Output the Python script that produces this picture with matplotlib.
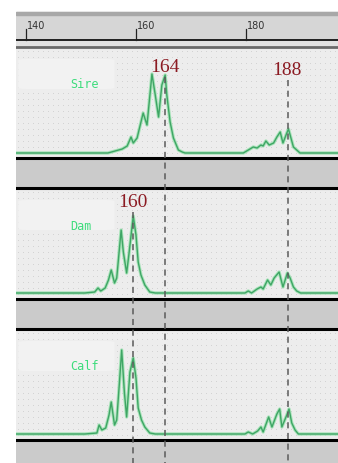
import numpy as np
import matplotlib.pyplot as plt
from matplotlib.patches import FancyBboxPatch

# electropherogram traces: fragment size (bp) and peak height for each sample
sire_bp = [138.2, 154.9, 156.2, 157.5, 158.4, 159.1, 159.5, 160.2, 161.3, 162.0, 162.9,
           163.5, 164.1, 164.7, 165.3, 165.6, 166.2, 166.8, 167.7, 168.4, 168.9,
           179.5, 180.4, 181.3, 182.0, 182.7, 183.1, 183.6, 184.2, 185.0, 185.6, 186.2,
           186.7, 187.4, 187.7, 188.1, 188.6, 189.2, 189.8, 196.7]
sire_h = [0, 0, 2, 4, 7, 16, 10, 15, 40, 28, 79,
          58, 36, 68, 78, 58, 31, 15, 3, 1, 0,
          0, 3, 6, 5, 8, 7, 12, 8, 10, 16, 21,
          10, 20, 24, 16, 6, 3, 0, 0]

dam_bp = [138.2, 150.7, 152.5, 153.1, 153.6, 154.4, 155.0, 155.5, 156.1, 156.5, 157.3,
          157.7, 158.3, 158.7, 159.5, 160.0, 160.4, 160.9, 161.6, 162.5, 163.5,
          179.8, 180.4, 181.0, 182.0, 182.7, 183.1, 183.9, 184.5, 185.1, 186.0,
          186.7, 187.5, 188.0, 188.6, 189.2, 189.9, 196.7]
dam_h = [0, 0, 1, 5, 2, 5, 13, 23, 10, 15, 63,
         41, 20, 38, 77, 58, 31, 18, 8, 1, 0,
         0, 2, 0, 4, 6, 4, 13, 8, 15, 21,
         6, 20, 15, 6, 2, 0, 0]

calf_bp = [138.2, 150.7, 152.9, 153.3, 153.8, 154.5, 155.1, 155.5, 156.1, 156.5, 157.0,
           157.4, 157.9, 158.3, 158.9, 159.2, 159.5, 160.0, 160.4, 161.0, 161.6, 162.5,
           163.5, 179.8, 180.4, 181.2, 182.1, 182.7, 183.1, 184.1, 184.7, 185.6, 186.1,
           186.5, 187.4, 187.8, 188.3, 188.9, 189.5, 196.7]
calf_h = [0, 0, 1, 9, 4, 6, 19, 32, 9, 14, 52,
          84, 41, 17, 62, 69, 76, 56, 26, 14, 7, 1,
          0, 0, 2, 0, 3, 7, 2, 17, 7, 20, 25,
          7, 19, 25, 11, 4, 0, 0]

# allele calls: label and peak position
call_labels = ["164", "188", "160"]
call_bp = [165.3, 187.6, 159.5]

ruler_ticks = [140, 160, 180]

# panel layout in pixel rows (top, bottom, baseline)
panels = [("Sire", 47, 158, 153, sire_bp, sire_h),
          ("Dam", 188, 299, 293, dam_bp, dam_h),
          ("Calf", 329, 440, 434, calf_bp, calf_h)]

fig = plt.figure(figsize=(3.38, 4.63), dpi=100)
ax = fig.add_axes([16 / 338, 0, 322 / 338, 1])
ax.set_xlim(138.2, 196.7)
ax.set_ylim(463, 0)
ax.axis("off")

# ruler strip and grey separators
ax.axhspan(12, 40, color="#d6d6d6", zorder=0)
ax.axhspan(12, 15, color="#a8a8a8", zorder=1)
ax.axhspan(40, 47, color="#e2e2e2", zorder=0)
ax.axhspan(158, 188, color="#cbcbcb", zorder=0)
ax.axhspan(299, 329, color="#cbcbcb", zorder=0)
ax.axhspan(440, 463, color="#cbcbcb", zorder=0)
ax.axhline(40, color="black", lw=1.2, zorder=3)
ax.axhline(47, color="#6a6a6a", lw=2.0, zorder=3)

for t in ruler_ticks:
    ax.plot([t, t], [29, 40], color="#222222", lw=0.9, zorder=3)
    ax.text(t + 0.15, 26, str(t), fontsize=7, color="#333333", ha="left", va="center",
            family="DejaVu Sans Condensed", zorder=3)

xs_dot = np.arange(138.6, 196.7, 0.9)
for name, top, bottom, base, bp, h in panels:
    ax.axhspan(top, bottom, color="#ededed", zorder=0)
    # faint dotted background grid
    ys_dot = np.arange(top + 4, bottom - 2, 6)
    gx, gy = np.meshgrid(xs_dot, ys_dot)
    ax.scatter(gx.ravel(), gy.ravel(), s=0.3, color="#c9c9c9", lw=0, zorder=1)
    # lighter box behind the sample name
    ax.add_patch(FancyBboxPatch((138.6, top + 12), 17.5, 30, boxstyle="round,pad=0,rounding_size=1.5",
                                fc="#f2f2f2", ec="none", zorder=1))
    ax.axhline(bottom, color="black", lw=2.2, zorder=4)
    if top != 47:
        ax.axhline(top, color="black", lw=2.2, zorder=4)
    y = base - np.array(h, dtype=float)
    ax.plot(bp, y, color="#a6e3b8", lw=2.4, zorder=5, solid_joinstyle="round")
    ax.plot(bp, y, color="#3fa565", lw=1.0, zorder=6, solid_joinstyle="round")
    ax.text(148.1, top + 38, name, fontsize=8.5, color="#3ddc7c", family="DejaVu Sans Mono",
            ha="left", va="center", zorder=7)

# dashed allele markers and their labels
label_bottom = {"164": 76, "188": 79, "160": 211}
for lab, x in zip(call_labels, call_bp):
    y0 = label_bottom[lab]
    ax.plot([x, x], [y0 + 1, 463], color="#5a5a5a", lw=1.1, ls=(0, (4, 3)), zorder=8)
    ax.text(x - 0.1, y0, lab, fontsize=14, color="#8b1a22", family="Liberation Serif",
            ha="center", va="bottom", zorder=9)

fig.savefig("out.png", dpi=100)
